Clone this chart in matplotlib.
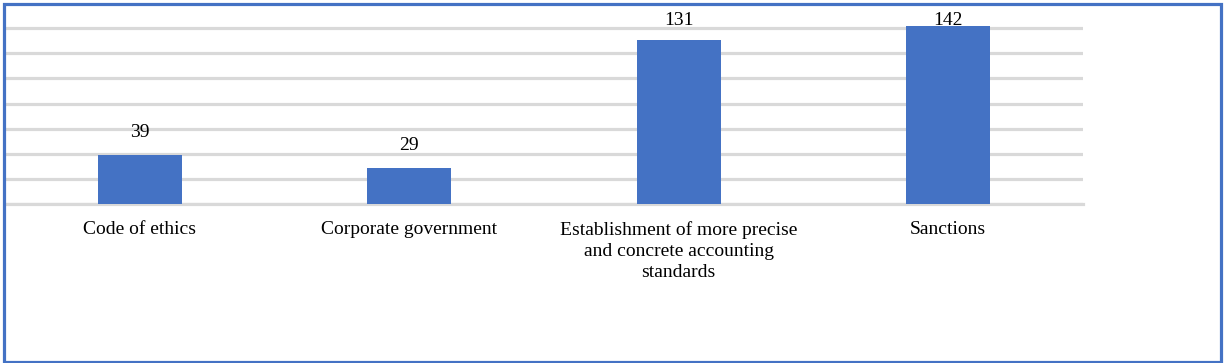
import numpy as np
import matplotlib.pyplot as plt
from matplotlib.patches import Rectangle

# Data
categories = ['Code of ethics', 'Corporate government',
              'Establishment of more precise\nand concrete accounting\nstandards',
              'Sanctions']
values = [39, 29, 131, 142]

W, H = 1227, 363
fig = plt.figure(figsize=(W / 100, H / 100), dpi=100)
plt.rcParams['font.family'] = ['Liberation Serif', 'DejaVu Serif']

# axes placed in pixel terms of the original
left, right, top, bottom = 5, 1083, 15.7, 204
ax = fig.add_axes([left / W, 1 - bottom / H, (right - left) / W, (bottom - top) / H])

x = np.arange(len(categories))
ax.bar(x, values, width=0.31, color='#4472C4', zorder=3)
ax.set_xlim(-0.5, len(categories) - 0.5)
ax.set_ylim(0, 150)
ax.set_yticks(np.arange(0, 141, 20))
ax.yaxis.grid(True, color='#D9D9D9', linewidth=2.3, zorder=0)
ax.set_yticklabels([])
ax.tick_params(axis='y', length=0)
ax.tick_params(axis='x', length=0, pad=12, labelsize=14)
ax.set_xticks(x)
ax.set_xticklabels(categories, linespacing=1.31)
for s in ['top', 'right', 'left']:
    ax.spines[s].set_visible(False)
ax.spines['bottom'].set_color('#D9D9D9')
ax.spines['bottom'].set_linewidth(2.3)

# value labels, kept inside the plot area like the source
for xi, v in zip(x, values):
    ax.text(xi, min(v + 11, 139.5), str(v), ha='center', va='bottom',
            fontsize=14, zorder=4)

# blue frame round the chart
fig.patches.append(Rectangle((3.5 / W, 1 - 361.5 / H), (1221 - 3.5) / W, (361.5 - 3.5) / H,
                             transform=fig.transFigure, fill=False,
                             edgecolor='#4472C4', linewidth=2.3))

fig.savefig('out.png', dpi=100)
